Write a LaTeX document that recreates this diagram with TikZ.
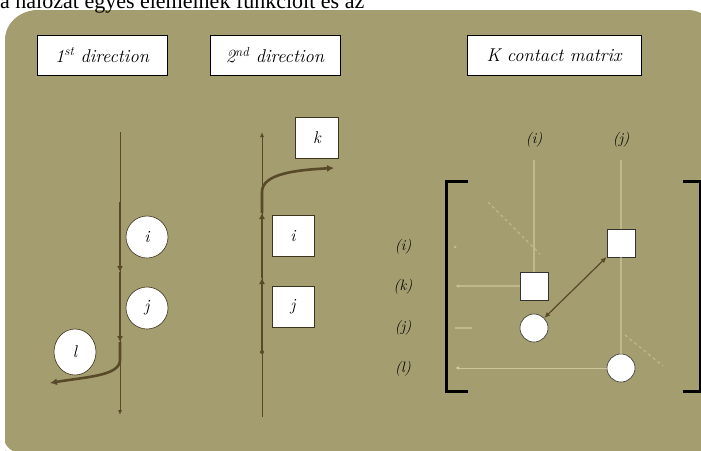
\documentclass[tikz,border=0pt]{standalone}
\usepackage{fontspec}
\newfontfamily\hdrfont{Liberation Serif}
\usetikzlibrary{arrows.meta,shapes.geometric}
\definecolor{panel}{RGB}{163,157,111}
\definecolor{darkline}{RGB}{88,74,40}
\definecolor{pale}{RGB}{214,210,160}
\tikzset{
  titlebox/.style={draw=black,line width=0.7pt,fill=white,minimum width=130pt,minimum height=40pt,font=\itshape\fontsize{18.5}{20}\selectfont,inner sep=2pt},
  circnode/.style={circle,draw=darkline!70!black,line width=0.6pt,fill=white,minimum size=42pt,inner sep=0pt,font=\itshape\fontsize{17}{18}\selectfont},
  sqnode/.style={draw=darkline!70!black,line width=0.6pt,fill=white,minimum width=42pt,minimum height=41pt,inner sep=0pt,font=\itshape\fontsize{17}{18}\selectfont},
  msq/.style={draw=black!80,line width=0.6pt,fill=white,minimum size=28pt,inner sep=0pt},
  mcirc/.style={circle,draw=black!80,line width=0.6pt,fill=white,minimum size=28pt,inner sep=0pt},
  thinline/.style={draw=darkline,line width=1pt},
  thickline/.style={draw=darkline,line width=2.6pt},
  paleline/.style={draw=pale,line width=1.2pt,opacity=0.55},
  mlabel/.style={font=\itshape\fontsize{15}{17}\selectfont,inner sep=0pt},
  bracketline/.style={draw=black,line width=3pt}
}
\begin{document}
\begin{tikzpicture}[x=1pt,y=-1pt]
\clip (0,0) rectangle (701,450);
\fill[white] (0,0) rectangle (701,450);
% panel
\fill[panel] (5,460) -- (5,40) to[out=90,in=180] (38,10) -- (688,10) to[out=0,in=90] (712,30) -- (712,460) -- cycle;
\fill[white] (0,450) -- (0,425) to[out=-80,in=180] (18,452) -- cycle;
% header text (cut at the top, as in the reference)
\node[anchor=base west,inner sep=0pt,font=\hdrfont\fontsize{22}{24}\selectfont] (hdr) at (0,8) {a hálózat egyes elemeinek funkcióit és az};

% title boxes
\node[titlebox] (t1) at (102,55) {1\textsuperscript{st} direction};
\node[titlebox] (t2) at (275,55) {2\textsuperscript{nd} direction};
\node[titlebox,minimum width=174pt] (t3) at (554,55) {K contact matrix};

% ---------- 1st direction ----------
\coordinate (a1) at (120,132);
\coordinate (a2) at (120,415);
\coordinate (a3) at (120,202);
\coordinate (a4) at (120,272);
\coordinate (a5) at (120,342);
\coordinate (a6) at (50,383);
\draw[thinline,-{Latex[length=5pt,width=4pt]}] (a1) -- (a2);
\draw[thickline,-{Latex[length=6pt,width=6pt]}] (a3) -- (a4);
\draw[thickline,-{Latex[length=6pt,width=6pt]}] (a4) -- (a5);
\draw[thickline,-{Latex[length=7pt,width=7pt]}] (a5) -- (120,360) .. controls (120,376) and (85,377) .. (a6);
\node[circnode] (ci) at (147,237) {i};
\node[circnode] (cj) at (147,308) {j};
\node[circnode,ellipse,minimum width=42pt,minimum height=46pt] (cl) at (75,352) {l};

% ---------- 2nd direction ----------
\coordinate (b1) at (262,417);
\coordinate (b2) at (262,132);
\coordinate (b3) at (262,352);
\coordinate (b4) at (262,278);
\coordinate (b5) at (262,213);
\coordinate (b6) at (334,168);
\draw[thinline,-{Latex[length=5pt,width=4pt]}] (b1) -- (b2);
\fill[darkline] (b3) circle (2pt);
\draw[thickline,-{Latex[length=6pt,width=6pt]}] (b3) -- (b4);
\draw[thickline,-{Latex[length=6pt,width=6pt]}] (b4) -- (b5);
\draw[thickline,-{Latex[length=7pt,width=7pt]}] (b5) -- (262,192) .. controls (262,174) and (295,170) .. (b6);
\node[sqnode,minimum width=43pt] (sk) at (317,138) {k};
\node[sqnode] (si) at (293,236) {i};
\node[sqnode] (sj) at (293,307) {j};

% ---------- K contact matrix ----------
\node[mlabel] (ci1) at (534,140) {(i)};
\node[mlabel] (cj1) at (621,140) {(j)};
\node[mlabel] (ri) at (403,247) {(i)};
\node[mlabel] (rk) at (403,287) {(k)};
\node[mlabel] (rj) at (403,328) {(j)};
\node[mlabel] (rl) at (403,369) {(l)};

% brackets
\draw[bracketline] (468,181) -- (446,181) -- (446,391) -- (468,391);
\draw[bracketline] (683,181) -- (700,181) -- (700,391) -- (683,391);

% matrix entries
\node[msq] (mk) at (534,286) {};
\node[msq] (mi) at (621,243) {};
\node[mcirc] (mj) at (534,328) {};
\node[mcirc] (ml) at (621,368) {};

% pale guide lines
\coordinate (p1) at (455,286);
\coordinate (p2) at (455,368);
\coordinate (p3) at (455,247);
\coordinate (p4) at (455,328);
\coordinate (p5) at (472,328);
\coordinate (d1) at (488,202);
\coordinate (d2) at (540,254);
\coordinate (d3) at (625,335);
\coordinate (d4) at (663,366);
\coordinate (v1) at (534,160);
\coordinate (v2) at (621,160);
\draw[paleline] (v1) -- (mk.north);
\draw[paleline] (v2) -- (mi.north);
\draw[paleline] (mi.south) -- (ml.north);
\draw[paleline,-{Latex[length=4pt,width=4pt]}] (mk.west) -- (p1);
\draw[pale,line width=0.8pt,opacity=0.8,-{Latex[length=4pt,width=4pt]}] (ml.west) -- (p2);
\fill[pale,opacity=0.6] (p3) circle (1.5pt);
\draw[paleline] (p4) -- (p5);
\draw[paleline,dashed] (d1) -- (d2);
\draw[paleline,dashed] (d3) -- (d4);

% contact arrow
\draw[darkline,line width=1.2pt,{Latex[length=6pt,width=5pt]}-{Latex[length=6pt,width=5pt]}] (mj) -- (mi);
\end{tikzpicture}
\end{document}
